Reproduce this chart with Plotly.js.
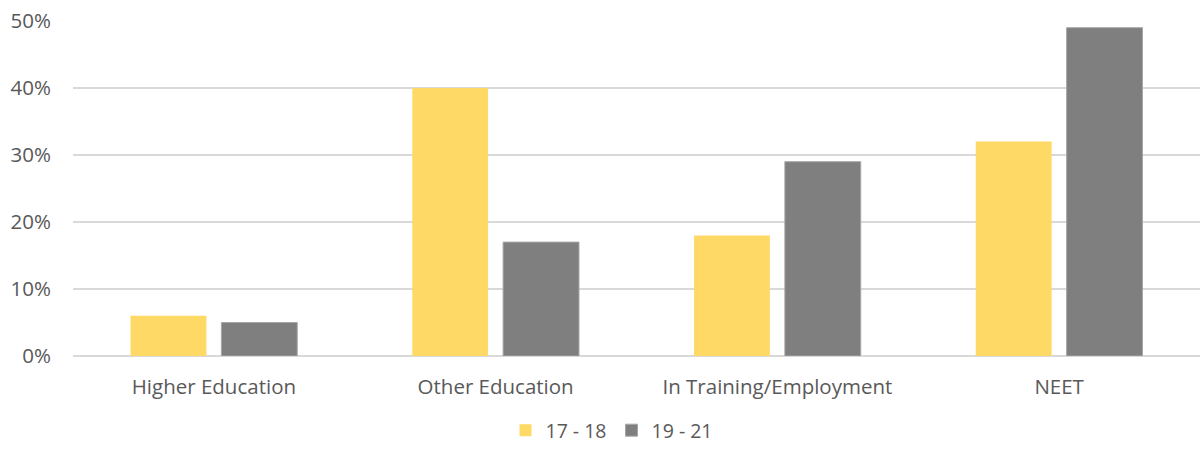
<!DOCTYPE html>
<html>
<head>
<meta charset="utf-8">
<script src="https://cdn.plot.ly/plotly-3.0.1.min.js"></script>
<style>html,body{margin:0;padding:0;background:#fff;}#chart{width:1200px;height:450px;}</style>
</head>
<body>
<div id="chart"></div>
<script>
const categories = ["Higher Education", "Other Education", "In Training/Employment", "NEET"];
const seriesNames = ["17 - 18", "19 - 21"];
const values1718 = [0.06, 0.40, 0.18, 0.32];
const values1921 = [0.05, 0.17, 0.29, 0.49];
const yTickVals = [0, 0.1, 0.2, 0.3, 0.4, 0.5];
const yTickText = ["0%", "10%", "20%", "30%", "40%", "50%"];

const font = {family: "Open Sans, Liberation Sans, sans-serif", size: 20.5, color: "#595959"};
const legendFont = {family: "Open Sans, Liberation Sans, sans-serif", size: 19.5, color: "#595959"};

const traces = [
  {type: "bar", name: seriesNames[0], x: categories, y: values1718,
   marker: {color: "#FFD966", line: {width: 0}}, hoverinfo: "none"},
  {type: "bar", name: seriesNames[1], x: categories, y: values1921,
   marker: {color: "#7F7F7F", line: {color: "#A6A6A6", width: 1}}, hoverinfo: "none"}
];

const layout = {
  width: 1200, height: 450,
  margin: {l: 73, r: 0, t: 21, b: 94, autoexpand: false},
  paper_bgcolor: "#fff", plot_bgcolor: "#fff",
  font: font,
  barmode: "group",
  bargap: 0.355,
  bargroupgap: 0.165,
  showlegend: true,
  legend: {orientation: "h", x: 0.51, xanchor: "center", xref: "container",
           y: -0.011, yanchor: "bottom", yref: "container",
           font: legendFont, itemwidth: 30, traceorder: "normal", tracegroupgap: 0},
  xaxis: {type: "category", showgrid: false, zeroline: false, showline: false,
          ticks: "", ticklabelstandoff: 16, tickfont: font, automargin: false},
  yaxis: {range: [0, 0.5], tickvals: yTickVals, ticktext: yTickText,
          showgrid: true, gridcolor: "#D9D9D9", gridwidth: 1.3,
          zeroline: true, zerolinecolor: "#D9D9D9", zerolinewidth: 1.3,
          showline: false, ticks: "", ticklabelstandoff: 21, tickfont: font, automargin: false}
};

Plotly.newPlot("chart", traces, layout, {staticPlot: true, displayModeBar: false});
</script>
</body>
</html>
